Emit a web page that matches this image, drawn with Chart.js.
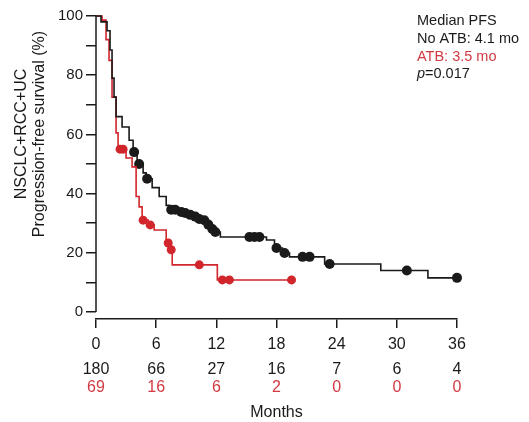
<!DOCTYPE html>
<html>
<head>
<meta charset="utf-8">
<script src="https://cdn.jsdelivr.net/npm/chart.js@4"></script>
<style>
  html, body { margin: 0; padding: 0; background: #fff; }
  #wrap { width: 529px; height: 422px; position: relative; }
</style>
</head>
<body>
<div id="wrap"><canvas id="pfsChart"></canvas></div>
<script>
// Kaplan-Meier steps: [months, % progression-free]
const noAtbCurve = [
    [0, 100], [0.5, 98], [1.1, 95], [1.4, 88.5], [1.6, 79], [1.8, 72.6], [2.0, 66],
    [2.6, 62.5], [3.3, 58], [3.7, 54], [4.1, 50], [4.7, 47], [5.0, 45], [5.6, 42],
    [6.3, 39], [7.0, 36], [7.3, 34.5], [8.3, 33.8], [8.7, 33.4], [9.2, 32.8], [9.7, 32.2],
    [10.1, 31.4], [10.6, 31], [11.0, 29.5], [11.4, 28], [11.8, 27], [12.4, 25.3],
    [17.0, 24.3], [17.8, 21.6], [18.6, 19.9], [19.3, 18.6], [22.8, 16.2], [28.4, 14],
    [33.1, 11.5], [36, 11.5]
];
const noAtbCensored = [
    [3.8, 54], [4.3, 50], [5.1, 45], [7.5, 34.5], [7.9, 34.5], [8.5, 33.8], [8.9, 33.4],
    [9.4, 32.8], [9.9, 32.2], [10.3, 31.4], [10.8, 31], [11.2, 29.5], [11.6, 28], [11.9, 27],
    [15.3, 25.3], [15.8, 25.3], [16.3, 25.3], [18.0, 21.6], [18.8, 19.9], [20.6, 18.6],
    [21.3, 18.6], [23.3, 16.2], [31.0, 14], [36.0, 11.5]
];
const atbCurve = [
    [0, 100], [0.6, 98.6], [1.0, 92], [1.3, 85], [1.6, 72.6], [2.0, 60.5], [2.2, 55],
    [3.0, 52], [3.6, 49], [4.0, 39], [4.3, 35.5], [4.6, 31], [5.2, 29.4], [5.8, 27.7],
    [7.0, 23.3], [7.4, 21], [7.6, 15.9], [12.1, 10.8], [19.5, 10.8]
];
const atbCensored = [
    [2.4, 55], [2.7, 55], [4.7, 31], [5.4, 29.4], [7.2, 23.3], [7.5, 21], [10.3, 15.9],
    [12.6, 10.8], [13.3, 10.8], [19.5, 10.8]
];

const monthTicks = [0, 6, 12, 18, 24, 30, 36];
const atRiskNoAtb = [180, 66, 27, 16, 7, 6, 4];
const atRiskAtb = [69, 16, 6, 2, 0, 0, 0];
const yTicks = [0, 10, 20, 30, 40, 50, 60, 70, 80, 90, 100];

const legendLines = ['Median PFS', 'No ATB: 4.1 mo', 'ATB: 3.5 mo', '=0.017'];

const BLACK = '#1a1a1a';
const RED = '#d1262c';
const RED_TEXT = '#d13a42';
const FONT = "'Liberation Sans', Arial, sans-serif";

const toXY = arr => arr.map(p => ({ x: p[0], y: p[1] }));

// draws the y axis line (0..100 only), the y title and the median box
const extras = {
    id: 'extras',
    afterDraw(chart) {
        const ctx = chart.ctx;
        const y = chart.scales.y;
        const left = chart.chartArea.left;
        ctx.save();
        ctx.strokeStyle = BLACK;
        ctx.lineWidth = 1.5;
        ctx.beginPath();
        ctx.moveTo(left, y.getPixelForValue(0));
        ctx.lineTo(left, y.getPixelForValue(100));
        ctx.stroke();

        // y title
        ctx.fillStyle = BLACK;
        ctx.font = '16px ' + FONT;
        ctx.textAlign = 'center';
        ctx.textBaseline = 'middle';
        ctx.translate(0, 134);
        ctx.rotate(-Math.PI / 2);
        ctx.fillText('NSCLC+RCC+UC', 0, 22);
        ctx.fillText('Progression-free survival (%)', 0, 40);
        ctx.restore();

        // median PFS text
        ctx.save();
        ctx.font = '14.5px ' + FONT;
        ctx.textAlign = 'left';
        ctx.textBaseline = 'middle';
        const lx = 417;
        ctx.fillStyle = BLACK;
        ctx.fillText(legendLines[0], lx, 21);
        ctx.fillText(legendLines[1], lx, 39);
        ctx.fillStyle = RED_TEXT;
        ctx.fillText(legendLines[2], lx, 57);
        ctx.fillStyle = BLACK;
        ctx.font = 'italic 14.5px ' + FONT;
        ctx.fillText('p', lx, 74);
        const pw = ctx.measureText('p').width;
        ctx.font = '14.5px ' + FONT;
        ctx.fillText(legendLines[3], lx + pw, 74);
        ctx.restore();
    }
};

new Chart(document.getElementById('pfsChart'), {
    type: 'line',
    data: {
        datasets: [
            {
                label: 'No ATB',
                data: toXY(noAtbCurve),
                borderColor: BLACK,
                borderWidth: 1.6,
                stepped: 'before',
                pointRadius: 0,
                fill: false,
                clip: false
            },
            {
                label: 'ATB',
                data: toXY(atbCurve),
                borderColor: RED,
                borderWidth: 1.6,
                stepped: 'before',
                pointRadius: 0,
                fill: false,
                clip: false
            },
            {
                label: 'No ATB censored',
                data: toXY(noAtbCensored),
                showLine: false,
                pointRadius: 5,
                pointBackgroundColor: BLACK,
                pointBorderWidth: 0,
                clip: false
            },
            {
                label: 'ATB censored',
                data: toXY(atbCensored),
                showLine: false,
                pointRadius: 4.5,
                pointBackgroundColor: RED,
                pointBorderWidth: 0,
                clip: false
            }
        ]
    },
    options: {
        responsive: true,
        maintainAspectRatio: false,
        animation: false,
        layout: { padding: { top: 16, right: 72, left: 0, bottom: 0 } },
        plugins: {
            legend: { display: false },
            tooltip: { enabled: false }
        },
        scales: {
            y: {
                type: 'linear',
                min: -2.4,
                max: 100,
                afterBuildTicks: scale => { scale.ticks = yTicks.map(v => ({ value: v })); },
                afterFit: scale => { scale.width = 96; },
                border: { display: false },
                grid: { drawOnChartArea: false, drawTicks: true, tickLength: 10, color: BLACK, lineWidth: 1.5 },
                ticks: {
                    color: BLACK,
                    padding: 3,
                    font: { family: FONT, size: 15 },
                    callback: v => (v % 20 === 0 ? v : '')
                }
            },
            x: {
                type: 'linear',
                position: 'bottom',
                weight: 0,
                min: 0,
                max: 36,
                afterBuildTicks: scale => { scale.ticks = monthTicks.map(v => ({ value: v })); },
                afterFit: scale => { scale.height = 34; },
                border: { display: true, color: BLACK, width: 1.5 },
                grid: { drawOnChartArea: false, drawTicks: true, tickLength: 9, color: BLACK, lineWidth: 1.5 },
                ticks: { color: BLACK, padding: 9, maxRotation: 0, font: { family: FONT, size: 16, lineHeight: 1 } }
            },
            xRiskNoAtb: {
                type: 'linear',
                position: 'bottom',
                weight: 1,
                min: 0,
                max: 36,
                afterBuildTicks: scale => { scale.ticks = monthTicks.map(v => ({ value: v })); },
                afterFit: scale => { scale.height = 25; },
                border: { display: false },
                grid: { display: false, drawTicks: false },
                ticks: {
                    color: BLACK,
                    padding: 9,
                    maxRotation: 0,
                    font: { family: FONT, size: 16, lineHeight: 1 },
                    callback: (v, i) => atRiskNoAtb[i]
                }
            },
            xRiskAtb: {
                type: 'linear',
                position: 'bottom',
                weight: 2,
                min: 0,
                max: 36,
                afterBuildTicks: scale => { scale.ticks = monthTicks.map(v => ({ value: v })); },
                afterFit: scale => { scale.height = 44; },
                border: { display: false },
                grid: { display: false, drawTicks: false },
                ticks: {
                    color: RED_TEXT,
                    padding: 2,
                    maxRotation: 0,
                    font: { family: FONT, size: 16, lineHeight: 1 },
                    callback: (v, i) => atRiskAtb[i]
                },
                title: {
                    display: true,
                    text: 'Months',
                    color: BLACK,
                    padding: { top: 0, bottom: 0 },
                    font: { family: FONT, size: 16 }
                }
            }
        }
    },
    plugins: [extras]
});
</script>
</body>
</html>
